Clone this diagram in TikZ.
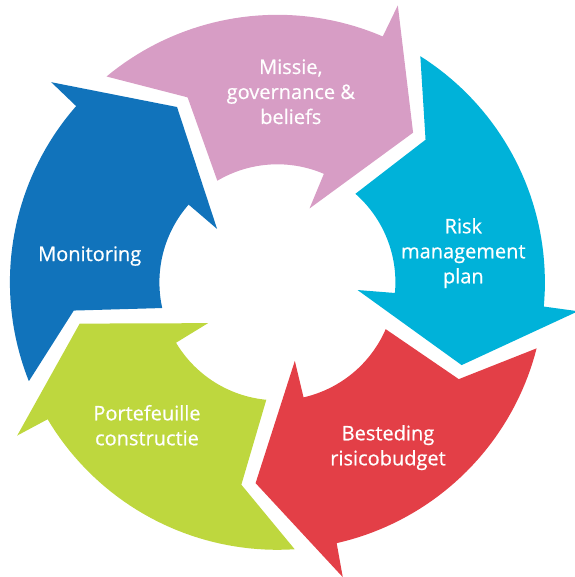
\documentclass[tikz,border=0pt]{standalone}
\usepackage{fontspec}
\setmainfont{Open Sans}
\newfontfamily\lblfont{Open Sans}[FakeBold=0.6]
\definecolor{cblue}{RGB}{17,115,187}
\definecolor{cpink}{RGB}{215,157,197}
\definecolor{ccyan}{RGB}{0,178,217}
\definecolor{cred}{RGB}{227,63,71}
\definecolor{cgreen}{RGB}{190,215,62}
\begin{document}
\begin{tikzpicture}[x=1pt,y=-1pt,
  lbl/.style={text=white, font=\lblfont\fontsize{20}{25}\selectfont, align=center, inner sep=0pt, anchor=base}]
\useasboundingbox (0,0) rectangle (574,577);
\def\cx{277.4}\def\cy{282.3}
\def\Ro{267.5}\def\Ri{118}
\foreach \k/\col in {0/cblue,1/cpink,2/ccyan,3/cred,4/cgreen}{
  \pgfmathsetmacro\T{158.3+72*\k}
  \pgfmathsetmacro\Tn{\T+62.9}
  \pgfmathsetmacro\Tb{\T+63.2}
  \pgfmathsetmacro\Tt{\T+81.9}
  \pgfmathsetmacro\Tc{\T+9.1}
  \pgfmathsetmacro\Tk{\T+13.8}
  \fill[\col, shift={(\cx,\cy)}] (\T:\Ro)
    -- plot[domain=\T:\Tn, samples=40] ({\Ro*cos(\x)},{\Ro*sin(\x)})
    -- (\Tb:302) -- (\Tt:202) -- (\Tb:80.5)
    -- plot[domain=\Tn:\Tc, samples=40] ({\Ri*cos(\x)},{\Ri*sin(\x)})
    -- (\Tk:205.6) -- cycle;
}
\node[lbl] (mon) at (89.7,261) {Monitoring};
\node[lbl] (mis) at (290.8,124) {Missie,\\governance \&\\beliefs};
\node[lbl] (risk) at (463.3,283.3) {Risk\\management\\plan};
\node[lbl] (best) at (388,465.3) {Besteding\\risicobudget};
\node[lbl] (port) at (147,445.3) {Portefeuille\\constructie};
\end{tikzpicture}
\end{document}
